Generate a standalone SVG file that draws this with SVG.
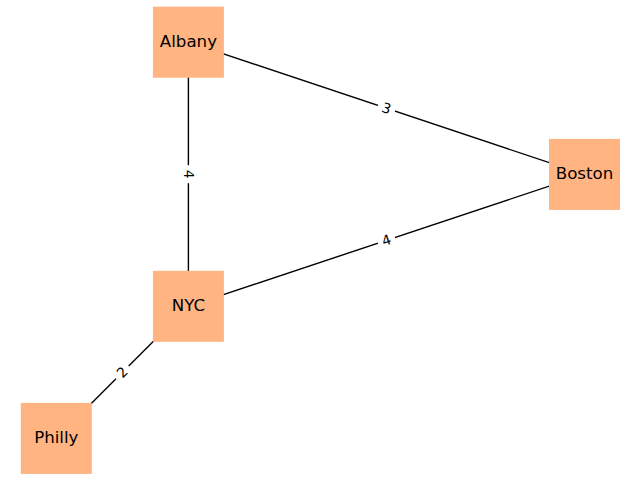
<svg xmlns="http://www.w3.org/2000/svg" width="640" height="480" viewBox="0 0 640 480">
<style>
.edge{stroke:#000;stroke-width:1.39;fill:none}
.node rect{fill:#FFB482}
.node text{font-family:"DejaVu Sans",sans-serif;font-size:16.67px;text-anchor:middle;fill:#000}
.elabel rect{fill:#fff}
.elabel text{font-family:"DejaVu Sans",sans-serif;font-size:13.9px;text-anchor:middle;fill:#000}
</style>
<rect width="640" height="480" fill="#fff"/>
<g id="connectors">
<line class="edge" x1="188.4" y1="42.2" x2="584.5" y2="174.4"/>
<line class="edge" x1="188.4" y1="42.2" x2="188.4" y2="306.3"/>
<line class="edge" x1="188.4" y1="306.3" x2="584.5" y2="174.4"/>
<line class="edge" x1="188.4" y1="306.3" x2="56.3" y2="438.4"/>
<g class="elabel" transform="translate(386.4,108.3) rotate(18.44)"><rect x="-9" y="-9" width="18" height="18" rx="3"/><text y="4.8">3</text></g>
<g class="elabel" transform="translate(188.4,174.2) rotate(90)"><rect x="-9" y="-9" width="18" height="18" rx="3"/><text y="4.8">4</text></g>
<g class="elabel" transform="translate(386.4,240.3) rotate(-18.44)"><rect x="-9" y="-9" width="18" height="18" rx="3"/><text y="4.8">4</text></g>
<g class="elabel" transform="translate(122.3,372.3) rotate(-45)"><rect x="-9" y="-9" width="18" height="18" rx="3"/><text y="4.8">2</text></g>
</g>
<g id="Albany" class="node"><rect x="152.9" y="6.7" width="71" height="71"/><text x="188.4" y="46.8">Albany</text></g>
<g id="Boston" class="node"><rect x="549" y="138.9" width="71" height="71"/><text x="584.5" y="179">Boston</text></g>
<g id="NYC" class="node"><rect x="152.9" y="270.8" width="71" height="71"/><text x="188.4" y="310.9">NYC</text></g>
<g id="Philly" class="node"><rect x="20.8" y="402.9" width="71" height="71"/><text x="56.3" y="443">Philly</text></g>
</svg>
